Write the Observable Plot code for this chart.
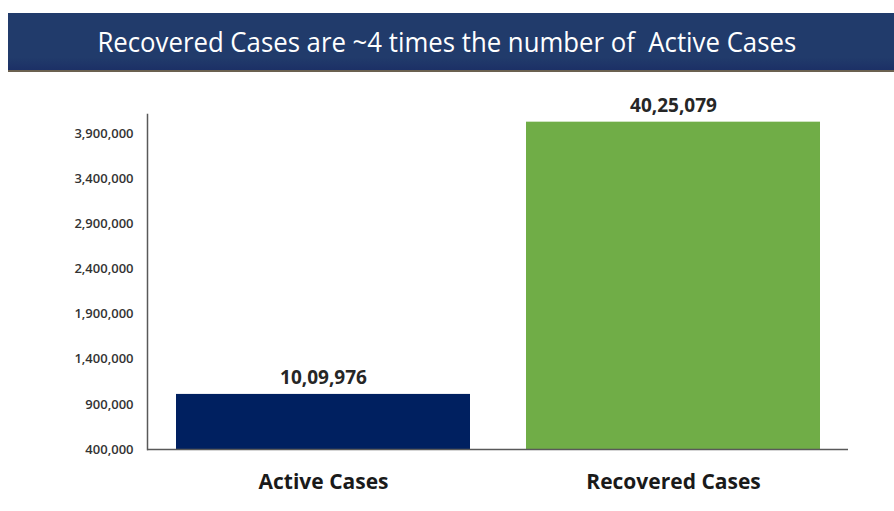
<!DOCTYPE html>
<html>
<head>
<meta charset="utf-8">
<script src="https://cdn.jsdelivr.net/npm/d3@7"></script>
<script src="https://cdn.jsdelivr.net/npm/@observablehq/plot@0.6"></script>
<style>
  html, body { margin: 0; padding: 0; background: #ffffff; }
  body { width: 894px; height: 511px; overflow: hidden; }
  #banner {
    margin-top: 13px;
    margin-left: 8px;
    height: 57px;
    background: linear-gradient(to bottom, #213b6b 0%, #213b6b 78%, #1c3066 100%);
    border-bottom: 2px solid #6b6150;
    display: flex;
    align-items: center;
    justify-content: center;
    padding-right: 8px;
  }
  #banner span {
    display: inline-block;
    color: #ffffff;
    font-family: "Open Sans", sans-serif;
    font-size: 28px;
    white-space: pre;
    transform: scaleX(0.92);
    margin-top: -2px;
  }
</style>
</head>
<body>
<div id="banner"><span>Recovered Cases are ~4 times the number of  Active Cases</span></div>
<div id="chart"></div>
<script>
const categories = ["Active Cases", "Recovered Cases"];
const values = [1009976, 4025079];
const valueLabels = ["10,09,976", "40,25,079"];
const colors = ["#002060", "#70ad47"];
const yTicks = [400000, 900000, 1400000, 1900000, 2400000, 2900000, 3400000, 3900000];
const yMin = 400000;
const yMax = 4110000;

const data = categories.map((c, i) => ({category: c, value: values[i], label: valueLabels[i], color: colors[i]}));

const chart = Plot.plot({
  width: 894,
  height: 439,
  marginLeft: 147,
  marginRight: 46,
  marginTop: 42,
  marginBottom: 62,
  style: {background: "#ffffff", fontFamily: "'Open Sans', sans-serif"},
  x: {domain: categories, paddingInner: 0.16, paddingOuter: 0.08, label: null},
  y: {domain: [yMin, yMax], label: null},
  marks: [
    Plot.barY(data, {x: "category", y1: () => yMin, y2: "value", fill: "color"}),
    Plot.text(data, {x: "category", y: "value", text: "label", lineAnchor: "bottom", dy: -10,
      fontSize: 19, fontWeight: "bold", fill: "#262626"}),
    Plot.axisY({ticks: yTicks, tickFormat: d3.format(","), tickSize: 0, tickPadding: 14,
      fontSize: 13, fontWeight: 600, fill: "#333333"}),
    Plot.axisX({tickSize: 0, tickPadding: 25, fontSize: 21, fontWeight: "bold", fill: "#1a1a1a"}),
    Plot.frame({anchor: "left", stroke: "#595959", strokeWidth: 1.5}),
    Plot.ruleY([yMin], {stroke: "#595959", strokeWidth: 1.5})
  ]
});
document.getElementById("chart").appendChild(chart);
</script>
</body>
</html>
